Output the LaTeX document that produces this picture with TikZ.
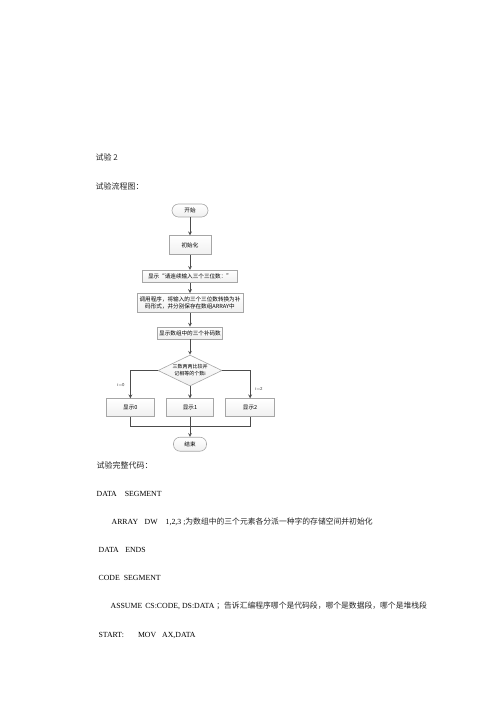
\documentclass[tikz,border=0pt]{standalone}
\usepackage{fontspec}
\setmainfont{Liberation Serif}
\newfontfamily\cjk{Noto Sans CJK SC}
\usetikzlibrary{arrows, positioning, shapes.geometric}

\begin{document}
\begin{tikzpicture}[
    x = 1pt, y = 1pt,
    > = stealth, % arrow head style
    node distance = 15pt, % distance between boxes
    semithick, % line style
    box/.style={rectangle, draw = gray!70, top color = white, bottom color = gray!12, inner sep = 1pt, font = \cjk\fontsize{5.6}{7.5}\selectfont, align = center},
    term/.style={box, rounded corners = 6.5pt},
    test/.style={diamond, aspect = 2, draw = gray!70, top color = white, bottom color = gray!12, inner sep = 0pt, font = \cjk\fontsize{5}{7}\selectfont, align = center},
    flow/.style={draw = black!70, line width = 0.7pt},
    line/.style={anchor = base west, text = black!85, font = \cjk\fontsize{8}{10}\selectfont},
    code/.style={anchor = base west, font = \fontsize{7.8}{10}\selectfont},
    tag/.style={text = black!80, font = \sffamily\fontsize{4.5}{5}\selectfont}
  ]

  \useasboundingbox (0,0) rectangle (500,-707);

  % text above the chart
  \node[line] (title) at (92,-160) {试验 2};
  \node[line] (flowhead) at (92,-189) {试验流程图：};

  % flow chart
  \node[term, minimum width = 36pt, minimum height = 13pt] (start) at (190,-210.5) {开始};
  \node[box, minimum width = 42pt, minimum height = 19pt] (init) [below = 18pt of start] {初始化};
  \node[box, minimum width = 95pt, minimum height = 12pt] (ask) [below = 15pt of init] {显示“请连续输入三个三位数：”};
  \node[box, minimum width = 106pt, minimum height = 19pt, text width = 104pt] (conv) [below = 10.5pt of ask] {调用程序，将输入的三个三位数转换为补\\码形式，并分别保存在数组ARRAY中};
  \node[box, minimum width = 65pt, minimum height = 12pt] (show) [below = 14pt of conv] {显示数组中的三个补码数};
  \node[test, minimum width = 64pt, minimum height = 31pt] (cmp) [below = 15.5pt of show] {三数两两比较并\\记相等的个数i};
  \node[box, minimum width = 47pt, minimum height = 18pt] (out1) [below = 12pt of cmp] {显示1};
  \node[box, minimum width = 48pt, minimum height = 18pt] (out0) [left = 11.5pt of out1] {显示0};
  \node[box, minimum width = 49pt, minimum height = 18pt] (out2) [right = 11.5pt of out1] {显示2};
  \coordinate[below = 9pt of out1] (join);
  \node[term, minimum width = 33pt, minimum height = 14pt] (stop) [below = 11pt of join] {结束};

  \node[tag] (lab0) at (121,-385) {i=0};
  \node[tag] (lab2) at (259,-389) {i=2};

  \draw[flow, ->] (start) -- (init);
  \draw[flow, ->] (init) -- (ask);
  \draw[flow, ->] (ask) -- (conv);
  \draw[flow, ->] (conv) -- (show);
  \draw[flow, ->] (show) -- (cmp);
  \draw[flow, ->] (cmp) -- (out1);
  \draw[flow, ->] (cmp.west) -| (out0.north);
  \draw[flow, ->] (cmp.east) -| (out2.north);
  \draw[flow] (out0.south) |- (join) -| (out2.south);
  \draw[flow, ->] (out1) -- (stop);

  % code listing
  \node[line] (codehead) at (93,-468) {试验完整代码：};
  \node[code] (c1) at (93,-496) {DATA\hspace{8pt}SEGMENT};
  \node[code] (c2) at (108,-524) {ARRAY\hspace{6.5pt}DW\hspace{8pt}1,2,3 ;{\cjk\color{black!85}为数组中的三个元素各分派一种字的存储空间并初始化}};
  \node[code] (c3) at (95,-552) {DATA\hspace{6.5pt}ENDS};
  \node[code] (c4) at (95,-580) {CODE\hspace{4pt}SEGMENT};
  \node[code] (c5) at (107,-608) {ASSUME\hspace{3pt}CS:CODE, DS:DATA {\cjk\color{black!85}；告诉汇编程序哪个是代码段，哪个是数据段，哪个是堆栈段}};
  \node[code] (c6) at (95,-637) {START:\hspace{14pt}MOV\hspace{6pt}AX,DATA};
\end{tikzpicture}
\end{document}
